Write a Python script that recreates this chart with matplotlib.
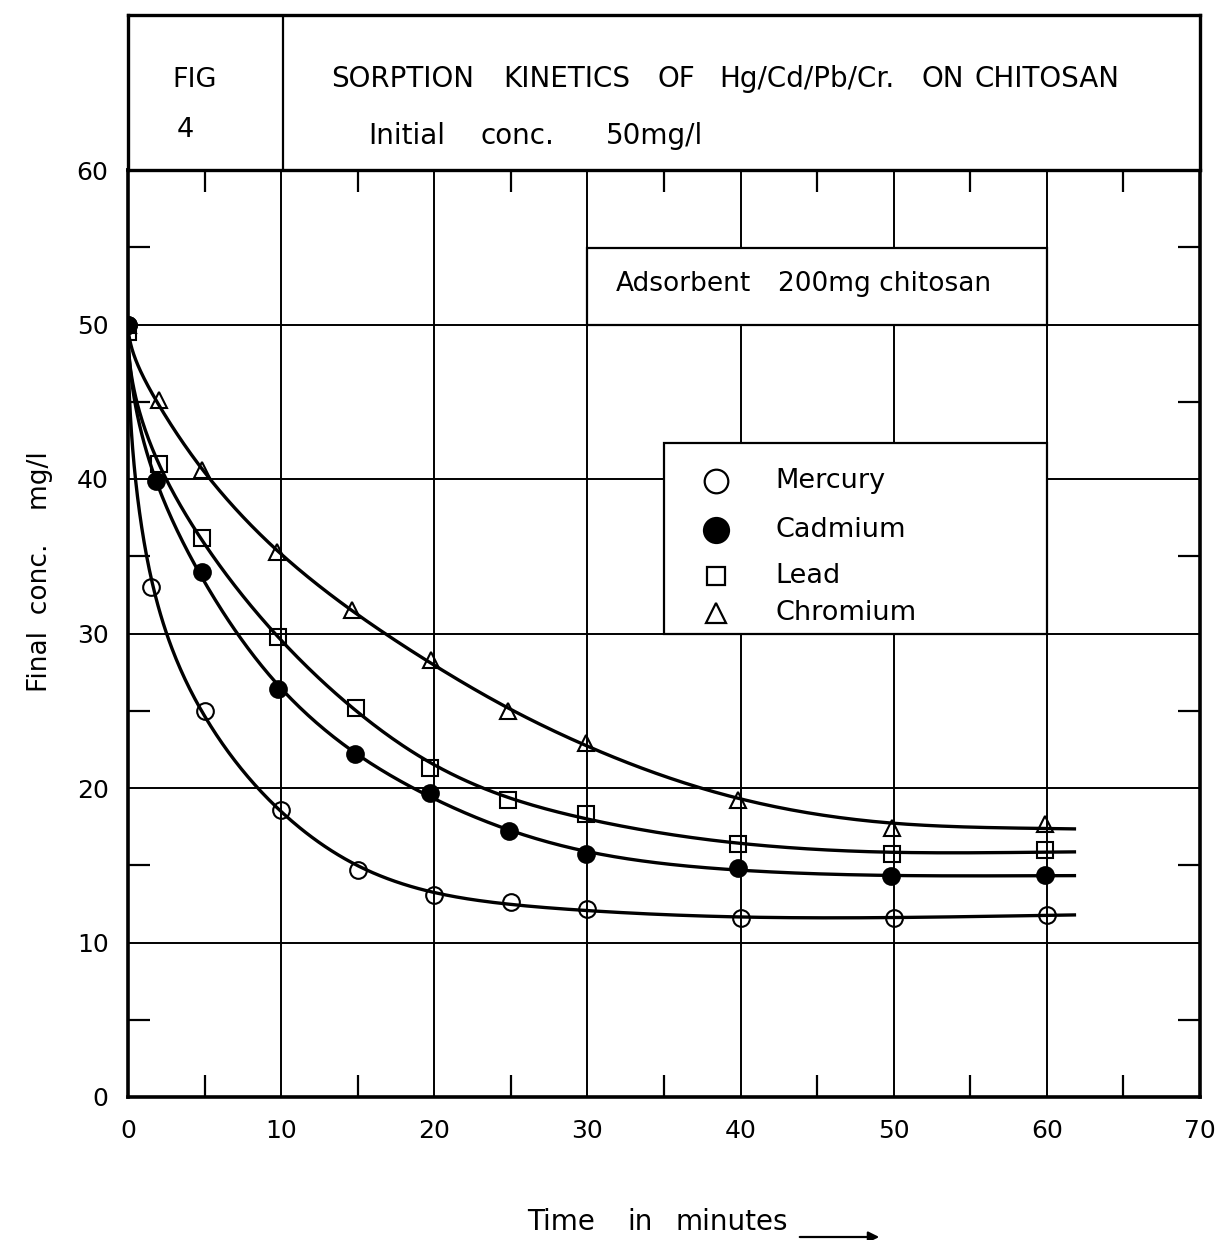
import numpy as np
import matplotlib
matplotlib.use("Agg")
import matplotlib.pyplot as plt
from matplotlib.patches import Rectangle, FancyArrowPatch

plt.rcParams['font.family'] = ['DejaVu Sans']

# sampling times (minutes) for each metal
t_hg = [0, 1.5, 5, 10, 15, 20, 25, 30, 40, 50, 60]
t_cd = [0, 1.8, 4.8, 9.8, 14.8, 19.7, 24.9, 29.9, 39.8, 49.8, 59.9]
t_pb = [0, 2, 4.8, 9.8, 14.9, 19.7, 24.8, 29.9, 39.8, 49.9, 59.9]
t_cr = [0, 2, 4.8, 9.7, 14.6, 19.8, 24.8, 29.9, 39.8, 49.9, 59.9]

# final concentration mg/l
mercury  = [50, 33.0, 25.0, 18.6, 14.7, 13.1, 12.6, 12.2, 11.6, 11.6, 11.8]
cadmium  = [50, 39.9, 34.0, 26.4, 22.2, 19.7, 17.2, 15.7, 14.8, 14.3, 14.4]
lead     = [49.5, 41.0, 36.2, 29.8, 25.2, 21.3, 19.2, 18.3, 16.4, 15.7, 16.0]
chromium = [50, 45.1, 40.6, 35.3, 31.5, 28.3, 25.0, 22.9, 19.2, 17.4, 17.7]

names = ['Mercury', 'Cadmium', 'Lead', 'Chromium']
x_ticks = [0, 10, 20, 30, 40, 50, 60, 70]
y_ticks = [0, 10, 20, 30, 40, 50, 60]


def smooth_curve(t, c, t_end=61.8, lam=0.08, n=400):
    # penalised (smoothing-spline like) fit on a sqrt(time) grid
    ud = np.sqrt(np.asarray(t, float))
    c = np.asarray(c, float)
    u = np.linspace(0, np.sqrt(t_end), n)
    du = u[1] - u[0]
    B = np.zeros((len(ud), n))
    for i, v in enumerate(ud):
        j = min(int(v / du), n - 2)
        f = v / du - j
        B[i, j] = 1 - f
        B[i, j + 1] = f
    D = np.zeros((n - 2, n))
    for j in range(n - 2):
        D[j, j:j + 3] = [1, -2, 1]
    D /= du**2
    z = np.linalg.solve(B.T @ B + lam * du * D.T @ D, B.T @ c)
    return u**2, z


W, H = 1218, 1240
fig = plt.figure(figsize=(W / 100, H / 100), dpi=100)
ax = fig.add_axes([128 / W, 1 - 1097 / H, (1200 - 128) / W, (1097 - 170) / H])
hax = fig.add_axes([128 / W, 1 - 170 / H, (1200 - 128) / W, (170 - 15) / H])


def ftext(px, py, s, **kw):
    # text placed by pixel position on the figure
    return fig.text(px / W, 1 - py / H, s, va='center', **kw)


# header box
hax.set_xlim(128, 1200)
hax.set_ylim(170, 15)
hax.set_xticks([])
hax.set_yticks([])
for s in hax.spines.values():
    s.set_linewidth(2.4)
hax.axvline(283, color='black', lw=1.6)
ftext(195, 80, 'FIG', fontsize=19.5, ha='center')
ftext(185, 130, '4', fontsize=19.5, ha='center')
for xc, w in zip([403, 567, 676, 807, 943, 1047],
                 ['SORPTION', 'KINETICS', 'OF', 'Hg/Cd/Pb/Cr.', 'ON', 'CHITOSAN']):
    ftext(xc, 79, w, fontsize=20, ha='center')
for xc, w in zip([407, 517, 654], ['Initial', 'conc.', '50mg/l']):
    ftext(xc, 136, w, fontsize=20, ha='center')

# main plot
ax.set_xlim(0, 70)
ax.set_ylim(0, 60)
ax.set_axisbelow(True)
ax.set_xticks(x_ticks)
ax.set_xticklabels([str(v) for v in x_ticks])
ax.set_yticks(y_ticks)
ax.set_yticklabels([str(v) for v in y_ticks])
ax.set_xticks(range(5, 70, 10), minor=True)
ax.set_yticks(range(5, 60, 10), minor=True)
ax.tick_params(which='major', length=0, labelsize=18)
ax.tick_params(axis='x', which='major', pad=16)
ax.tick_params(axis='y', which='major', pad=14)
ax.tick_params(which='minor', direction='in', length=16, width=1.6,
               top=True, right=True, bottom=True, left=True)
ax.grid(which='major', color='black', lw=1.4)
for s in ax.spines.values():
    s.set_linewidth(2.6)

styles = [
    dict(marker='o', mfc='none', ms=12),
    dict(marker='o', mfc='black', ms=12),
    dict(marker='s', mfc='none', ms=11),
    dict(marker='^', mfc='none', ms=12),
]
for t, c, st in zip([t_hg, t_cd, t_pb, t_cr], [mercury, cadmium, lead, chromium], styles):
    tt, cc = smooth_curve(t, c)
    ax.plot(tt, cc, color='black', lw=2.4, zorder=3)
    ax.plot(t, c, ls='none', color='black', mec='black', mew=1.5, zorder=4, **st)

# adsorbent box
ax.add_patch(Rectangle((30, 50), 30, 4.95, facecolor='white', edgecolor='black',
                       lw=1.6, zorder=2))
ftext(683, 284, 'Adsorbent', fontsize=19, ha='center')
ftext(885, 284, '200mg chitosan', fontsize=19, ha='center')

# legend box
ax.add_patch(Rectangle((35, 30), 25, 12.3, facecolor='white', edgecolor='black',
                       lw=1.6, zorder=2))
leg_y = [39.9, 36.7, 33.7, 31.3]
leg_styles = [
    dict(marker='o', mfc='none', ms=17),
    dict(marker='o', mfc='black', ms=18),
    dict(marker='s', mfc='none', ms=13),
    dict(marker='^', mfc='none', ms=14),
]
for name, y, st in zip(names, leg_y, leg_styles):
    ax.plot([38.4], [y], ls='none', color='black', mec='black', mew=1.6, zorder=3, **st)
    ax.text(42.3, y, name, fontsize=19.5, ha='left', va='center', zorder=3)

# axis titles
fig.text(40 / W, 1 - 572 / H, 'Final  conc.    mg/l', rotation=90, fontsize=19,
         ha='center', va='center')
for xc, w in zip([561, 640, 732], ['Time', 'in', 'minutes']):
    ftext(xc, 1222, w, fontsize=20, ha='center')
fig.add_artist(FancyArrowPatch(
    (797 / W, 1 - 1237 / H), (882 / W, 1 - 1237 / H), transform=fig.transFigure,
    arrowstyle='-|>', mutation_scale=16, color='black', lw=1.6))

fig.savefig('out.png', dpi=100)
